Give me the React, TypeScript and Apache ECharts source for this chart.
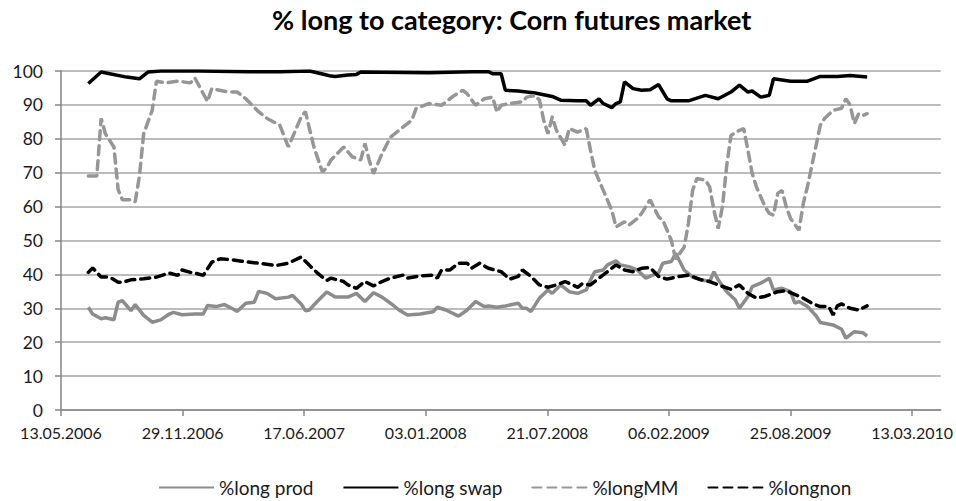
import React, { useEffect, useRef } from "react";
import * as echarts from "echarts";

// Weekly COT reports: week index 0 = 27.06.2006
const FIRST_REPORT_DAY = 45; // days after 13.05.2006 (axis origin)
const xTickDays = [0, 200, 400, 600, 800, 1000, 1200, 1400];

const prodWeeks = [0,1,3,4,6,7,8,10,11,13,15,17,19,20,22,25,27,28,30,32,34,35,37,39,40,42,44,47,48,50,51,52,53,54,56,58,61,63,65,67,69,71,73,75,78,81,82,84,87,89,91,93,94,96,98,101,102,103,104,106,108,109,111,113,115,117,118,119,121,122,124,125,127,129,131,134,135,137,138,139,140,142,144,146,147,148,150,152,153,155,156,158,160,161,163,165,166,167,169,171,172,175,177,178,180,182,183];
const prodValues = [30.3,28.3,26.9,27.2,26.6,31.8,32.3,29.3,31.1,27.9,25.9,26.6,28.3,28.8,28.1,28.3,28.3,30.8,30.5,31.1,29.8,29.1,31.5,31.8,35,34.4,32.8,33.3,33.8,31.3,29.3,29.5,31,32.3,34.8,33.3,33.3,34.4,32,34.6,33.3,31.5,29.5,28,28.3,29,30.3,29.5,27.7,29.5,32,30.5,30.7,30.3,30.7,31.5,30,30,29,33,35.4,34.4,36.9,34.9,34.4,35.4,38.4,40.8,41.3,42.8,44,42.8,42.3,41.3,38.9,40.5,43.3,43.8,46.2,43.8,41.3,39.2,38.4,37.9,40.8,38.4,34.9,32.5,30,33.5,36.4,37.4,38.9,35.4,35.9,34.9,31.5,32,30.5,27.8,25.8,25.1,23.8,21.2,23.1,22.8,21.8];

const swapWeeks = [0,3,5,9,12,14,17,26,38,45,52,56,57,58,61,63,64,80,90,94,95,97,98,101,105,109,111,115,117,118,120,121,123,124,125,126,128,130,132,134,136,137,141,145,148,151,153,155,156,158,160,161,165,169,172,176,179,183];
const swapValues = [96.3,99.7,99.2,98.2,97.7,99.7,100,100,99.8,99.8,100,98.8,98.5,98.4,98.8,99,99.7,99.5,99.8,99.8,99.2,99.2,94.3,94.1,93.5,92.5,91.4,91.2,91.2,89.9,91.8,90.4,89.2,90.4,90.9,96.8,94.8,94.3,94.5,96,91.8,91.2,91.2,92.8,91.8,93.8,95.8,93.8,94.1,92.3,92.8,97.7,97,97,98.4,98.4,98.7,98.2];

const mmWeeks = [0,2,3,4,6,7,8,10,11,12,13,15,16,18,21,24,25,28,29,33,35,37,40,42,45,47,50,51,53,55,56,57,60,62,64,65,66,67,69,71,74,76,77,80,83,86,88,89,91,93,95,96,97,99,102,103,105,106,107,108,109,110,112,113,115,117,118,119,121,123,124,126,127,129,130,132,134,135,137,138,140,141,142,143,145,146,147,148,149,150,151,153,154,155,156,157,159,160,161,162,163,164,165,167,168,169,170,171,172,173,175,177,178,179,180,181,182,183];
const mmValues = [69,69,86,81.5,77.6,65,62,62,61.4,69,81.5,88.4,97,96.5,97,96.5,98,91,94.8,93.8,93.8,91.8,88,86,84,77.6,86.4,88,77.6,70.2,71.5,73.7,77.6,74.7,73.7,78.6,73.7,69.7,75.6,80.5,83.5,85.5,88.9,90.4,89.9,92.8,94.3,93.3,89.9,91.8,92.3,87.9,89.9,90.4,90.9,92.3,92.8,91.4,85.5,81.5,86.4,82.5,78.1,83,82,83,76.6,70.7,64.8,58.9,54,55.5,54.5,56.5,58,62,57,56,50,44.5,48,55,64.8,68.3,67.8,65.8,59,53.5,60,72,81,82.5,83,76.6,69.7,65.8,60,58,57.5,63.9,64.8,59.9,56.5,53,60.9,66,72,78,84,86,88.4,89,91.8,90,84.5,87.4,86.9,87.4];

const nonWeeks = [0,1,3,5,7,8,10,13,16,19,21,22,24,25,27,29,31,33,36,40,44,47,50,52,54,56,57,60,61,63,65,67,69,71,74,75,78,81,82,83,85,87,89,90,92,94,97,99,101,102,104,106,108,110,112,115,116,118,120,122,124,126,128,130,132,134,136,138,141,144,146,148,151,153,155,157,159,162,164,165,168,170,172,174,175,176,177,179,181,183];
const nonValues = [40.6,41.9,39.2,39.2,37.7,37.7,38.4,38.7,39.2,40.4,39.7,41.3,40.6,40.4,39.7,43.6,44.6,44.4,43.9,43.3,42.6,43.3,45.1,42.6,40.2,38.2,38.9,37.9,36.9,35.9,37.9,36.6,37.9,38.9,39.8,38.9,39.6,39.8,38.9,41.3,41.3,43.3,43.3,41.8,43.3,41.8,40.8,38.6,39.4,41.3,39.4,36.9,36.2,36.9,37.9,36.2,37.2,36.9,38.9,40.8,42.8,41.3,40.8,41.8,42,39.4,38.6,39.2,39.8,38.4,37.9,36.9,35.6,36.9,34.4,33,33.5,34.9,35.2,34.6,33,31.5,30.5,30.5,28,30.7,31.3,30,29.5,30.7];

const BASE = Date.UTC(2006, 4, 13);
const fmtDay = (v: number) => {
  const d = new Date(BASE + Math.round(v) * 86400000);
  const p = (n: number) => (n < 10 ? "0" + n : "" + n);
  return p(d.getUTCDate()) + "." + p(d.getUTCMonth() + 1) + "." + d.getUTCFullYear();
};
const toPairs = (weeks: number[], vals: number[]) =>
  weeks.map((w, i) => [FIRST_REPORT_DAY + 7 * w, vals[i]]);

const FONT = "Lato";
const TXT = "#1a1a1a";

export default function App() {
  const ref = useRef<HTMLDivElement>(null);
  useEffect(() => {
    document.body.style.margin = "0";
    document.documentElement.style.overflow = "hidden";
    document.body.style.overflow = "hidden";
    const chart = echarts.init(ref.current!, undefined, { renderer: "svg" });
    chart.setOption({
      animation: false,
      backgroundColor: "#ffffff",
      textStyle: { fontFamily: FONT, color: TXT },
      title: {
        text: "% long to category: Corn futures market",
        left: 267,
        top: 1,
        textStyle: { fontFamily: FONT, fontSize: 27, fontWeight: "bold", color: "#000" },
      },
      legend: {
        left: 153,
        top: 473,
        itemWidth: 55,
        itemHeight: 14,
        itemGap: 29,
        itemStyle: { opacity: 0 },
        textStyle: { fontFamily: FONT, fontSize: 19, color: TXT },
        data: ["%long prod", "%long swap", "%longMM", "%longnon"],
      },
      grid: { left: 61, right: 15, top: 71, bottom: 91, containLabel: false },
      xAxis: {
        type: "value",
        min: 0,
        max: 1447,
        splitLine: { show: false },
        axisLine: { show: true, lineStyle: { color: "#868686", width: 1.5 } },
        axisTick: { show: true, length: 6, customValues: xTickDays, lineStyle: { color: "#868686", width: 1.5 } },
        axisLabel: {
          customValues: xTickDays,
          formatter: (v: number) => fmtDay(v),
          fontFamily: FONT,
          fontSize: 16,
          color: TXT,
          margin: 14,
        },
      },
      yAxis: {
        type: "value",
        min: 0,
        max: 100,
        interval: 10,
        axisLine: { show: true, lineStyle: { color: "#868686", width: 1.5 } },
        axisTick: { show: true, length: 6, lineStyle: { color: "#868686", width: 1.5 } },
        splitLine: { show: true, lineStyle: { color: "#a6a6a6", width: 1.5 } },
        axisLabel: { fontFamily: FONT, fontSize: 17.5, color: TXT, margin: 18 },
      },
      series: [
        {
          name: "%long prod",
          type: "line",
          symbol: "none",
          data: toPairs(prodWeeks, prodValues),
          lineStyle: { color: "#8c8c8c", width: 3.5 },
          itemStyle: { color: "#8c8c8c" },
        },
        {
          name: "%long swap",
          type: "line",
          symbol: "none",
          data: toPairs(swapWeeks, swapValues),
          lineStyle: { color: "#000000", width: 3.5 },
          itemStyle: { color: "#000000" },
        },
        {
          name: "%longMM",
          type: "line",
          symbol: "none",
          data: toPairs(mmWeeks, mmValues),
          lineStyle: { color: "#969696", width: 3.5, type: [9, 6], cap: "round" },
          itemStyle: { color: "#969696" },
        },
        {
          name: "%longnon",
          type: "line",
          symbol: "none",
          data: toPairs(nonWeeks, nonValues),
          lineStyle: { color: "#000000", width: 3.5, type: [9, 6], cap: "round" },
          itemStyle: { color: "#000000" },
        },
      ],
    });
    return () => chart.dispose();
  }, []);
  return <div ref={ref} style={{ width: 956, height: 501 }} />;
}
